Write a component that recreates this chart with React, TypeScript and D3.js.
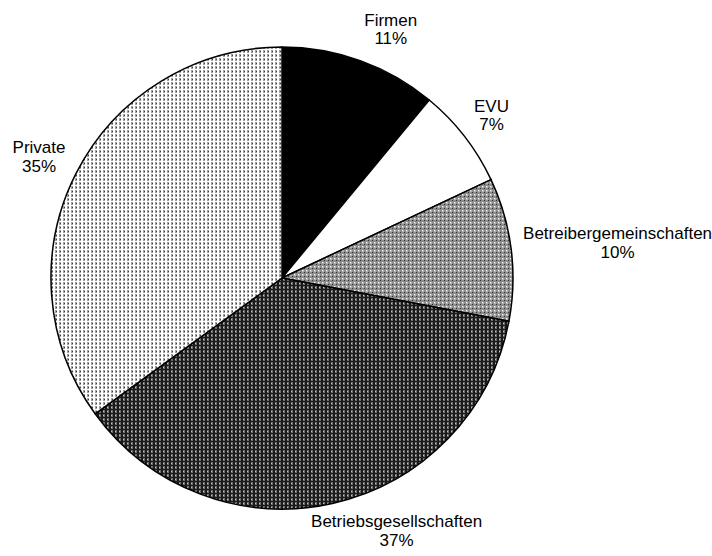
import React from 'react';
import * as d3 from 'd3';

// Anteile der Betreiber (im Uhrzeigersinn ab 12 Uhr)
const categories = ['Firmen', 'EVU', 'Betreibergemeinschaften', 'Betriebsgesellschaften', 'Private'];
const shares = [11, 7, 10, 37, 35];
const labels = ['11%', '7%', '10%', '37%', '35%'];
const fills = ['#000', '#fff', 'url(#patMid)', 'url(#patDark)', 'url(#patLight)'];

const width = 712;
const height = 556;
const cx = 282;
const cy = 278;
const radius = 231;
const fontSize = 17;
const lineH = 18.5;

export default function App() {
  const pie = d3.pie<number>().sort(null).value((d) => d).startAngle(0).endAngle(Math.PI * 2);
  const arcs = pie(shares);
  const arcGen = d3.arc<d3.PieArcDatum<number>>().innerRadius(0).outerRadius(radius);

  // rough text width measure
  const measure = (s: string) => {
    if (typeof document === 'undefined') return s.length * fontSize * 0.5;
    const c = document.createElement('canvas').getContext('2d')!;
    c.font = `${fontSize}px "Liberation Sans", Arial, sans-serif`;
    return c.measureText(s).width;
  };

  const gap = 12;
  const k = 3.3;

  return (
    <svg
      width={width}
      height={height}
      style={{ position: 'absolute', left: 0, top: 0, background: '#fff' }}
      fontFamily='"Liberation Sans", Arial, sans-serif'
    >
      <defs>
        <pattern id="patMid" width={4} height={4} patternUnits="userSpaceOnUse">
          <rect width={4} height={4} fill="#8c8c8c" />
          <rect x={0} y={0} width={2} height={2} fill="#b4b4b4" />
          <rect x={0} y={0} width={1} height={1} fill="#fff" />
          <rect x={2} y={2} width={1} height={1} fill="#333" />
        </pattern>
        <pattern id="patDark" width={4} height={4} patternUnits="userSpaceOnUse">
          <rect width={4} height={4} fill="#1a1a1a" />
          <rect x={1} y={0} width={2} height={3} fill="#6e6e6e" />
          <rect x={1} y={1} width={1} height={1} fill="#c0c0c0" />
        </pattern>
        <pattern id="patLight" width={4} height={4} patternUnits="userSpaceOnUse">
          <rect width={4} height={4} fill="#fff" />
          <rect x={1} y={0} width={2} height={3} fill="#a0a0a0" />
          <rect x={2} y={1} width={1} height={1} fill="#444" />
        </pattern>
      </defs>
      <g transform={`translate(${cx},${cy})`}>
        {arcs.map((a, i) => (
          <path key={categories[i]} d={arcGen(a) || ''} fill={fills[i]} stroke="#000" strokeWidth={1.5} strokeLinejoin="round" />
        ))}
        {arcs.map((a, i) => {
          const mid = (a.startAngle + a.endAngle) / 2;
          const s = Math.sin(mid);
          const c = Math.cos(mid);
          const r = radius + gap;
          const w = Math.max(measure(categories[i]), measure(labels[i]));
          const px = r * s + (w / 2) * Math.max(-1, Math.min(1, k * s));
          const py = -r * c - lineH * c;
          const b1 = py - 6;
          return (
            <text key={'l' + i} textAnchor="middle" fontSize={fontSize} fill="#000">
              <tspan x={px} y={b1}>{categories[i]}</tspan>
              <tspan x={px} y={b1 + lineH}>{labels[i]}</tspan>
            </text>
          );
        })}
      </g>
    </svg>
  );
}
